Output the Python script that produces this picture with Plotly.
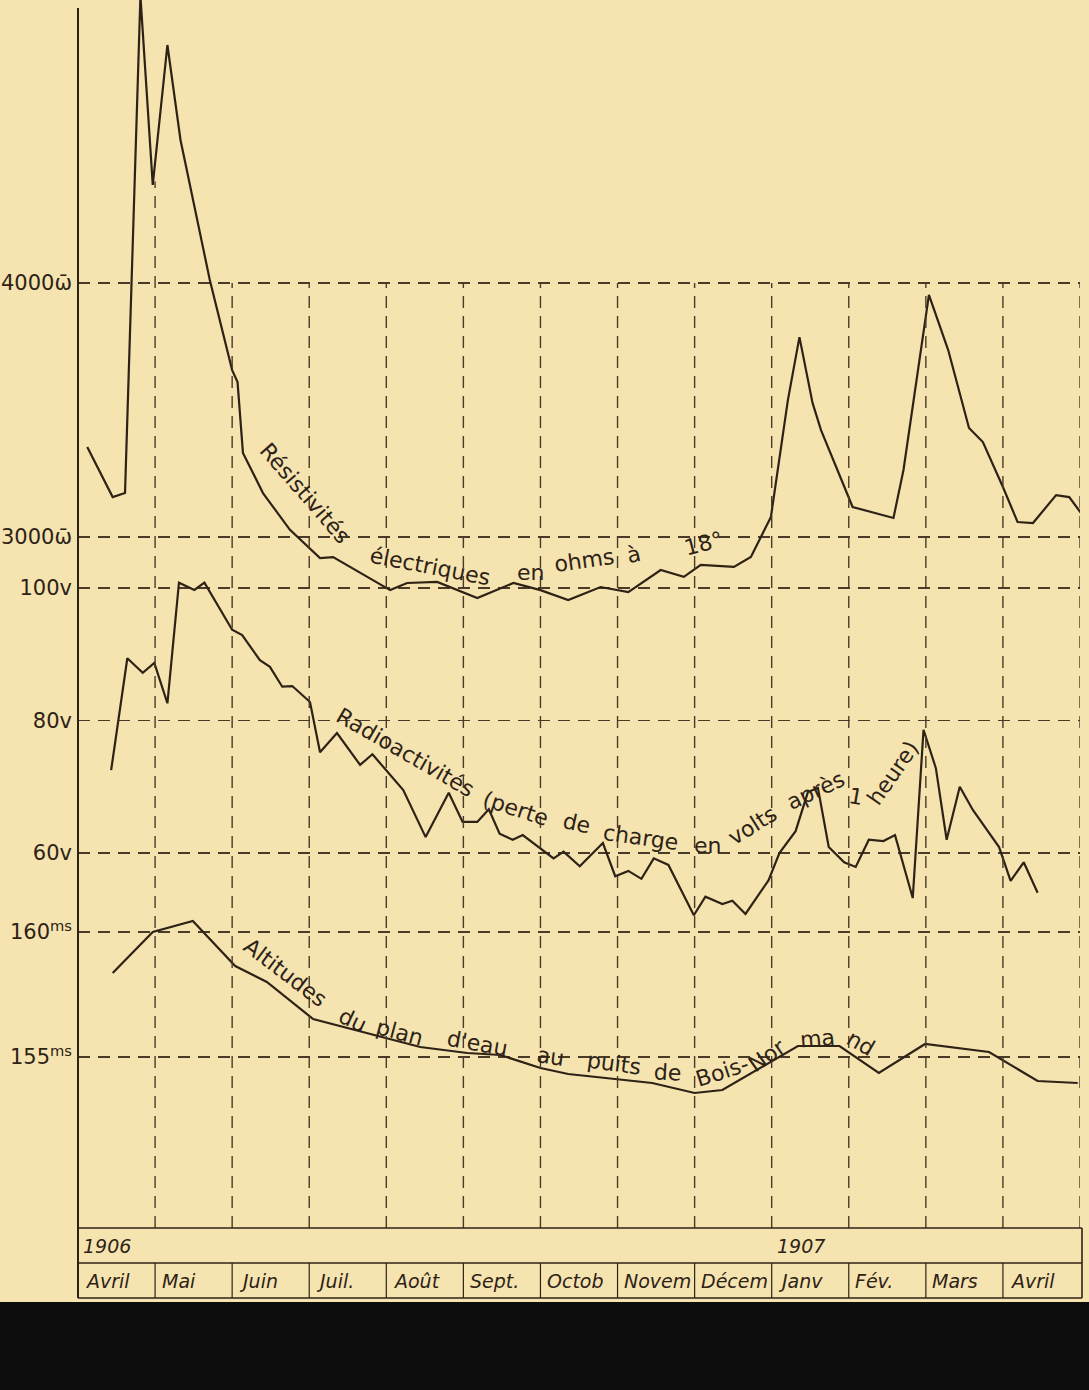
import plotly.graph_objects as go

# ---------------- data ----------------
MOIS = ["Avril", "Mai", "Juin", "Juil.", "Août", "Sept.", "Octob",
        "Novem", "Décem", "Janv", "Fév.", "Mars", "Avril"]
ANNEES = ["1906", "1907"]

# time in months counted from 1 April 1906
res_mois = [0.12, 0.45, 0.61, 0.81, 0.97, 1.16, 1.33, 1.71, 2.0, 2.07,
            2.14, 2.40, 2.75, 3.14, 3.31, 4.05, 4.27, 4.66, 5.18, 5.65,
            6.0, 6.36, 6.78, 7.14, 7.56, 7.86, 8.08, 8.51, 8.73, 8.99,
            9.21, 9.36, 9.53, 9.64, 10.05, 10.58, 10.71, 10.90, 11.04, 11.29,
            11.56, 11.74, 12.0, 12.19, 12.39, 12.69, 12.86, 13.05]
res_ohms = [3354, 3157, 3173, 5130, 4386, 4937, 4563, 4012, 3657, 3610,
            3331, 3173, 3028, 2917, 2921, 2791, 2819, 2823, 2760, 2819,
            2791, 2752, 2803, 2783, 2870, 2843, 2890, 2882, 2921, 3079,
            3539, 3787, 3528, 3421, 3118, 3075, 3264, 3669, 3953, 3736,
            3429, 3374, 3197, 3059, 3055, 3165, 3157, 3079]

rad_mois = [0.43, 0.48, 0.64, 0.84, 0.99, 1.16, 1.31, 1.51, 1.64, 2.0,
            2.13, 2.36, 2.49, 2.65, 2.78, 3.01, 3.14, 3.36, 3.66, 3.82,
            4.22, 4.51, 4.81, 4.99, 5.18, 5.33, 5.47, 5.64, 5.77, 6.17,
            6.30, 6.51, 6.81, 6.97, 7.14, 7.31, 7.47, 7.66, 7.99, 8.14,
            8.36, 8.49, 8.66, 8.96, 9.10, 9.31, 9.47, 9.60, 9.74, 9.94,
            10.09, 10.26, 10.45, 10.60, 10.83, 10.97, 11.13, 11.27, 11.44, 11.61,
            11.95, 12.10, 12.27, 12.45]
rad_volts = [72.5, 76.6, 89.4, 87.2, 88.7, 82.6, 100.8, 99.7, 100.8, 93.7,
             92.9, 89.1, 88.1, 85.1, 85.2, 82.8, 75.2, 78.1, 73.3, 74.9,
             69.5, 62.4, 69.1, 64.7, 64.7, 66.6, 62.9, 62.0, 62.7, 59.2,
             60.2, 58.0, 61.5, 56.5, 57.3, 56.1, 59.2, 58.2, 50.6, 53.4,
             52.3, 52.8, 50.8, 55.9, 60.0, 63.3, 69.2, 69.8, 60.9, 58.6,
             57.9, 62.0, 61.8, 62.7, 53.2, 78.6, 72.8, 62.0, 70.0, 66.5,
             60.9, 55.8, 58.6, 54.0]

alt_mois = [0.45, 0.97, 1.49, 2.04, 2.45, 3.05, 4.44, 5.05, 5.48, 6.0,
            6.36, 7.45, 8.0, 8.36, 9.34, 9.88, 10.39, 10.99, 11.82, 12.45, 12.97]
alt_metres = [158.36, 160.0, 160.44, 158.64, 158.0, 156.52, 155.4, 155.16, 155.08, 154.56,
              154.32, 153.96, 153.56, 153.68, 155.44, 155.44, 154.36, 155.52, 155.2, 154.04, 153.96]

res_ticks = [3000, 4000]
res_ticktext = ["3000ω\u0304", "4000ω\u0304"]
rad_ticks = [60, 80, 100]
rad_ticktext = ["60v", "80v", "100v"]
alt_ticks = [155, 160]
alt_ticktext = ["155<sup>ms</sup>", "160<sup>ms</sup>"]

# curve captions (text, month, value, angle)
res_label = [("Résistivités", 2.95, 3173, 49),
             ("électriques", 4.57, 2882, 11), ("en", 5.87, 2862, 0),
             ("ohms", 6.56, 2909, -8), ("à", 7.21, 2933, -12), ("18°", 8.12, 2976, -15)]
rad_label = [("Radioactivités", 4.25, 75.2, 30), ("(perte", 5.67, 66.7, 18),
             ("de", 6.48, 64.5, 12), ("charge", 7.30, 62.4, 8), ("en", 8.17, 61.1, 0),
             ("volts", 8.75, 64.2, -32), ("après", 9.57, 69.5, -25),
             ("1", 10.09, 68.5, 10), ("heure)", 10.58, 72.1, -55)]
alt_label = [("Altitudes", 2.69, 158.4, 37), ("du", 3.57, 156.48, 25),
             ("plan", 4.18, 156.0, 15), ("d'eau", 5.18, 155.56, 10), ("au", 6.13, 155.04, 8),
             ("puits", 6.95, 154.76, 8), ("de", 7.66, 154.4, 3), ("Bois-", 8.36, 154.44, -18),
             ("Nor", 8.94, 155.08, -35), ("ma", 9.60, 155.76, -5), ("nd", 10.16, 155.56, 30)]

# ---------------- styling ----------------
BG = "#f5e4b0"
INK = "#2e2216"
GRID = "#4a3a28"
FONT = "DejaVu Sans"
W, H = 1089, 1390
PLOT_H = 1228
ML, MR, MT, MB = 78, 9, 0, H - PLOT_H

RES_RANGE = [279.5, 5114.2]
RAD_RANGE = [3.4, 188.75]
ALT_RANGE = [148.16, 197.28]
X_RANGE = [0, 13]

fig = go.Figure()
fig.add_trace(go.Scatter(x=res_mois, y=res_ohms, mode="lines", yaxis="y",
                         line=dict(color=INK, width=2.2), hoverinfo="skip"))
fig.add_trace(go.Scatter(x=rad_mois, y=rad_volts, mode="lines", yaxis="y2",
                         line=dict(color=INK, width=2.2), hoverinfo="skip"))
fig.add_trace(go.Scatter(x=alt_mois, y=alt_metres, mode="lines", yaxis="y3",
                         line=dict(color=INK, width=2.2), hoverinfo="skip"))

DASH = "12px,8px"
common_y = dict(showgrid=True, griddash=DASH, gridcolor=GRID, gridwidth=1.4,
                zeroline=False, showline=False, ticks="", side="left",
                ticklabelstandoff=5,
                tickfont=dict(family=FONT, size=21, color=INK), fixedrange=True)

fig.update_layout(
    width=W, height=H, showlegend=False,
    paper_bgcolor=BG, plot_bgcolor=BG,
    margin=dict(l=ML, r=MR, t=MT, b=MB),
    xaxis=dict(range=X_RANGE, showgrid=False, zeroline=False, showticklabels=False,
               showline=False, ticks="", fixedrange=True),
    yaxis=dict(range=RES_RANGE, tickvals=res_ticks, ticktext=res_ticktext, **common_y),
    yaxis2=dict(range=RAD_RANGE, tickvals=rad_ticks, ticktext=rad_ticktext,
                overlaying="y", **common_y),
    yaxis3=dict(range=ALT_RANGE, tickvals=alt_ticks, ticktext=alt_ticktext,
                overlaying="y", **common_y),
)

shapes = []
# vertical dashed month grid lines
for k in range(1, len(MOIS) + 1):
    top = 4400 if k == 1 else 4000
    shapes.append(dict(type="line", xref="x", yref="y", x0=k, x1=k,
                       y0=RES_RANGE[0], y1=top,
                       line=dict(color=GRID, width=1.4, dash=DASH)))

# strip at bottom (paper coords)
strip_mid = -35 / PLOT_H
strip_bot = -70 / PLOT_H
# left axis line
shapes.append(dict(type="line", xref="paper", yref="paper", x0=0, x1=0,
                   y0=strip_bot, y1=(PLOT_H - 8) / PLOT_H,
                   line=dict(color=INK, width=2)))
for yy in (0, strip_mid, strip_bot):
    shapes.append(dict(type="line", xref="paper", yref="paper", x0=0, x1=1.002,
                       y0=yy, y1=yy, line=dict(color=INK, width=1.6)))
shapes.append(dict(type="line", xref="paper", yref="paper", x0=1.002, x1=1.002,
                   y0=strip_bot, y1=0, line=dict(color=INK, width=1.6)))
for k in range(1, len(MOIS)):
    shapes.append(dict(type="line", xref="x", yref="paper", x0=k, x1=k,
                       y0=strip_bot, y1=strip_mid, line=dict(color=INK, width=1.2)))
# dark band at the very bottom of the picture
shapes.append(dict(type="rect", xref="paper", yref="paper", x0=-0.1, x1=1.02,
                   y0=-(H - PLOT_H) / PLOT_H - 0.01, y1=-74 / PLOT_H,
                   fillcolor="#0d0d0d", line=dict(width=0), layer="above"))

annotations = []
for i, m in enumerate(MOIS):
    annotations.append(dict(xref="x", yref="paper", x=i + 0.06, y=(strip_mid + strip_bot) / 2,
                            xanchor="left", yanchor="middle", showarrow=False,
                            text=f"<i>{m}</i>", font=dict(family=FONT, size=19, color=INK)))
annotations.append(dict(xref="x", yref="paper", x=0.04, y=strip_mid / 2,
                        xanchor="left", yanchor="middle", showarrow=False,
                        text=f"<i>{ANNEES[0]}</i>", font=dict(family=FONT, size=19, color=INK)))
annotations.append(dict(xref="x", yref="paper", x=9.38, y=strip_mid / 2,
                        xanchor="center", yanchor="middle", showarrow=False,
                        text=f"<i>{ANNEES[1]}</i>", font=dict(family=FONT, size=19, color=INK)))

for labels, yref in ((res_label, "y"), (rad_label, "y2"), (alt_label, "y3")):
    for txt, xm, yv, ang in labels:
        annotations.append(dict(xref="x", yref=yref, x=xm, y=yv, text=txt,
                                textangle=ang, showarrow=False,
                                xanchor="center", yanchor="middle",
                                font=dict(family=FONT, size=22, color=INK)))

fig.update_layout(shapes=shapes, annotations=annotations)
fig.write_html("out.html", config={"displayModeBar": False, "staticPlot": True},
               post_script="document.body.style.margin='0';"
                           "document.body.style.background='" + BG + "';")
